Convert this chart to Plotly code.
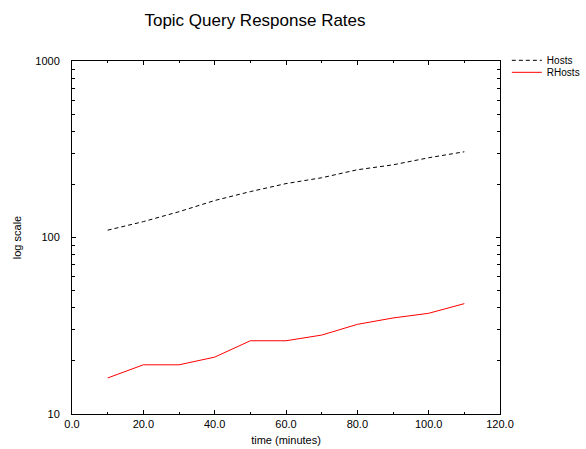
import plotly.graph_objects as go

time_min = [10, 20, 30, 40, 50, 60, 70, 80, 90, 100, 110]
hosts = [110, 123, 140, 162, 182, 202, 218, 242, 258, 283, 306]
rhosts = [16.0, 19.0, 19.0, 21.0, 26.0, 26.0, 28.0, 32.2, 35.0, 37.2, 42.2]
x_ticks = [0, 20, 40, 60, 80, 100, 120]
y_ticks = [10, 100, 1000]

fig = go.Figure()
fig.add_trace(go.Scatter(x=time_min, y=hosts, mode="lines", name="Hosts",
                         line=dict(color="black", width=1, dash="4px,3px"),
                         legend="legend"))
fig.add_trace(go.Scatter(x=time_min, y=rhosts, mode="lines", name="RHosts",
                         line=dict(color="red", width=1), legend="legend2"))

font = "Liberation Sans, Arial, sans-serif"
leg_common = dict(xanchor="left", yanchor="top",
                  font=dict(family=font, size=10, color="black"),
                  itemwidth=30, bgcolor="rgba(0,0,0,0)")
fig.update_layout(
    width=586, height=449,
    margin=dict(l=72, r=86, t=61, b=35, autoexpand=False),
    paper_bgcolor="white", plot_bgcolor="white",
    font=dict(family=font, size=11, color="black"),
    title=dict(text="Topic Query Response Rates", x=255 / 586, xref="container",
               y=1 - 20 / 449, yref="container",
               xanchor="center", yanchor="middle",
               font=dict(family=font, size=17, color="black")),
    showlegend=True,
    legend=dict(x=1.016, y=1.043, **leg_common),
    legend2=dict(x=1.016, y=1.009, **leg_common),
)
fig.update_xaxes(
    range=[0, 120], tickvals=x_ticks, ticktext=[f"{v:.1f}" for v in x_ticks],
    showgrid=False, zeroline=False, showline=True, linecolor="black", linewidth=1,
    mirror="ticks", ticks="inside", ticklen=4, tickcolor="black",
    minor=dict(dtick=10, tick0=0, ticks="inside", ticklen=2, tickcolor="black"),
    title=dict(text="time (minutes)", font=dict(size=11, color="black"), standoff=7),
    tickfont=dict(size=11, color="black"), automargin=False,
)
fig.update_yaxes(
    type="log", range=[1, 3], tickvals=y_ticks, ticktext=[str(v) for v in y_ticks],
    showgrid=False, zeroline=False, showline=True, linecolor="black", linewidth=1,
    mirror="ticks", ticks="inside", ticklen=4, tickcolor="black",
    minor=dict(dtick="D1", ticks="inside", ticklen=3, tickcolor="black"),
    title=dict(text="log scale", font=dict(size=11, color="black"), standoff=11),
    tickfont=dict(size=11, color="black"), automargin=False, ticklabelstandoff=9,
)

fig.write_html("out.html", config={"displayModeBar": False},
               post_script="document.body.style.margin='0px';")
